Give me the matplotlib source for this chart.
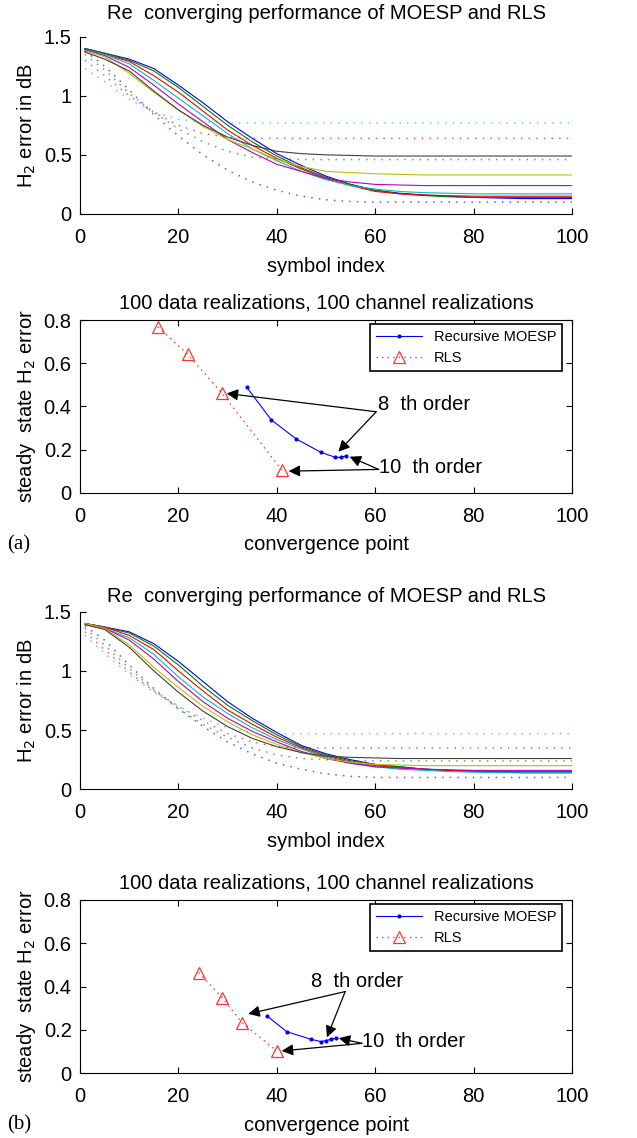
import matplotlib
matplotlib.use("Agg")
import matplotlib.pyplot as plt
import numpy as np

plt.rcParams['font.family'] = ['Liberation Sans', 'DejaVu Sans']
plt.rcParams['xtick.direction'] = 'in'
plt.rcParams['ytick.direction'] = 'in'

# symbol index where the curves were read
xs = [1, 5, 10, 15, 20, 25, 30, 35, 40, 45, 50, 55, 60, 65, 70, 75, 80, 85, 90, 95, 100]

# (a) recursive MOESP curves (solid)
a_blue = [1.40, 1.36, 1.31, 1.23, 1.09, 0.94, 0.78, 0.64, 0.51, 0.41, 0.32, 0.25, 0.20, 0.175, 0.16, 0.15, 0.14, 0.135, 0.13, 0.13, 0.13]
a_green = [1.40, 1.36, 1.30, 1.21, 1.07, 0.91, 0.75, 0.61, 0.49, 0.39, 0.31, 0.25, 0.20, 0.17, 0.155, 0.145, 0.14, 0.14, 0.14, 0.14, 0.14]
a_red = [1.39, 1.35, 1.29, 1.17, 1.03, 0.87, 0.71, 0.58, 0.47, 0.38, 0.30, 0.24, 0.19, 0.17, 0.16, 0.155, 0.15, 0.15, 0.15, 0.15, 0.15]
a_cyan = [1.39, 1.35, 1.27, 1.13, 0.98, 0.83, 0.68, 0.55, 0.45, 0.36, 0.29, 0.24, 0.21, 0.19, 0.18, 0.175, 0.17, 0.17, 0.17, 0.17, 0.17]
a_magenta = [1.39, 1.34, 1.24, 1.09, 0.93, 0.78, 0.63, 0.52, 0.42, 0.36, 0.30, 0.27, 0.25, 0.245, 0.24, 0.24, 0.24, 0.24, 0.24, 0.24, 0.24]
a_yellow = [1.38, 1.33, 1.19, 1.03, 0.88, 0.74, 0.63, 0.55, 0.46, 0.40, 0.36, 0.35, 0.34, 0.335, 0.33, 0.33, 0.33, 0.33, 0.33, 0.33, 0.33]
a_black = [1.37, 1.31, 1.21, 1.04, 0.88, 0.75, 0.65, 0.58, 0.53, 0.51, 0.50, 0.495, 0.49, 0.49, 0.49, 0.49, 0.49, 0.49, 0.49, 0.49, 0.49]
# (a) RLS curves (dotted)
a_rls_cyan = [1.23, 1.12, 0.97, 0.86, 0.80, 0.78, 0.77, 0.77, 0.77, 0.77, 0.77, 0.77, 0.77, 0.77, 0.77, 0.77, 0.77, 0.77, 0.77, 0.77, 0.77]
a_rls_red = [1.30, 1.17, 1.00, 0.86, 0.75, 0.68, 0.65, 0.64, 0.64, 0.64, 0.64, 0.64, 0.64, 0.64, 0.64, 0.64, 0.64, 0.64, 0.64, 0.64, 0.64]
a_rls_green = [1.35, 1.22, 1.02, 0.86, 0.72, 0.61, 0.53, 0.48, 0.47, 0.46, 0.46, 0.46, 0.46, 0.46, 0.46, 0.46, 0.46, 0.46, 0.46, 0.46, 0.46]
a_rls_blue = [1.38, 1.25, 1.05, 0.84, 0.66, 0.50, 0.37, 0.27, 0.20, 0.15, 0.12, 0.105, 0.10, 0.10, 0.10, 0.10, 0.10, 0.10, 0.10, 0.10, 0.10]

# (a) steady state vs convergence point
a_moesp_conv = [33.9, 38.9, 43.9, 48.9, 51.9, 53.0, 54.0]
a_moesp_err = [0.488, 0.337, 0.250, 0.188, 0.164, 0.164, 0.170]
a_rls_conv = [15.8, 21.9, 28.9, 41.0]
a_rls_err = [0.769, 0.641, 0.460, 0.105]

# (b) recursive MOESP curves
b_blue = [1.40, 1.37, 1.33, 1.23, 1.08, 0.91, 0.74, 0.60, 0.48, 0.37, 0.30, 0.25, 0.21, 0.19, 0.17, 0.16, 0.15, 0.145, 0.14, 0.14, 0.14]
b_green = [1.40, 1.37, 1.32, 1.21, 1.05, 0.87, 0.71, 0.58, 0.46, 0.36, 0.29, 0.24, 0.21, 0.19, 0.17, 0.16, 0.155, 0.15, 0.15, 0.15, 0.15]
b_red = [1.40, 1.37, 1.30, 1.18, 1.00, 0.83, 0.67, 0.55, 0.44, 0.35, 0.28, 0.23, 0.20, 0.18, 0.17, 0.16, 0.155, 0.15, 0.15, 0.15, 0.15]
b_cyan = [1.40, 1.36, 1.28, 1.14, 0.95, 0.78, 0.64, 0.52, 0.42, 0.34, 0.27, 0.22, 0.19, 0.17, 0.16, 0.15, 0.145, 0.14, 0.14, 0.14, 0.14]
b_magenta = [1.40, 1.36, 1.26, 1.10, 0.91, 0.74, 0.60, 0.49, 0.40, 0.32, 0.26, 0.22, 0.19, 0.18, 0.17, 0.165, 0.16, 0.16, 0.16, 0.16, 0.16]
b_yellow = [1.40, 1.36, 1.22, 1.03, 0.86, 0.70, 0.57, 0.46, 0.38, 0.31, 0.26, 0.23, 0.21, 0.205, 0.20, 0.20, 0.20, 0.20, 0.20, 0.20, 0.20]
b_black = [1.39, 1.35, 1.20, 1.00, 0.82, 0.66, 0.53, 0.43, 0.36, 0.31, 0.28, 0.27, 0.265, 0.26, 0.26, 0.26, 0.26, 0.26, 0.26, 0.26, 0.26]
# (b) RLS curves
b_rls_cyan = [1.30, 1.15, 0.97, 0.82, 0.70, 0.60, 0.52, 0.48, 0.47, 0.47, 0.47, 0.47, 0.47, 0.47, 0.47, 0.47, 0.47, 0.47, 0.47, 0.47, 0.47]
b_rls_red = [1.33, 1.18, 0.99, 0.83, 0.70, 0.58, 0.47, 0.40, 0.36, 0.35, 0.35, 0.35, 0.35, 0.35, 0.35, 0.35, 0.35, 0.35, 0.35, 0.35, 0.35]
b_rls_green = [1.36, 1.22, 1.02, 0.84, 0.68, 0.55, 0.44, 0.35, 0.29, 0.26, 0.25, 0.24, 0.24, 0.24, 0.24, 0.24, 0.24, 0.24, 0.24, 0.24, 0.24]
b_rls_blue = [1.38, 1.26, 1.05, 0.85, 0.68, 0.53, 0.40, 0.30, 0.22, 0.17, 0.13, 0.11, 0.10, 0.10, 0.10, 0.10, 0.10, 0.10, 0.10, 0.10, 0.10]

# (b) steady state vs convergence point
b_moesp_conv = [38.0, 42.0, 46.9, 49.0, 50.0, 51.1, 52.1]
b_moesp_err = [0.265, 0.192, 0.157, 0.146, 0.151, 0.157, 0.162]
b_rls_conv = [24.1, 28.9, 32.9, 40.0]
b_rls_err = [0.465, 0.349, 0.234, 0.103]

# matlab colours
cb, cg, cr = (0, 0, 1), (0, 0.5, 0), (1, 0, 0)
cc, cm, cy, ck = (0, 0.75, 0.75), (0.75, 0, 0.75), (0.75, 0.75, 0), (0.25, 0.25, 0.25)

FS = 14.5


def curves_panel(ax, solid, dotted, tpad):
    for y, c in solid:
        ax.plot(xs, y, color=c, lw=0.8)
    for y, c in dotted:
        ax.plot(xs, y, color=c, lw=1.1, ls=(0, (1, 4)), alpha=0.65)
    ax.set_xlim(0, 100)
    ax.set_ylim(0, 1.5)
    ax.set_xticks([0, 20, 40, 60, 80, 100])
    ax.set_yticks([0, 0.5, 1, 1.5])
    ax.set_yticklabels(['0', '0.5', '1', '1.5'])
    ax.spines['top'].set_visible(False)
    ax.spines['right'].set_visible(False)
    ax.tick_params(labelsize=FS, length=4, width=0.8)
    ax.tick_params(axis='y', pad=6)
    ax.tick_params(axis='x', pad=10)
    ax.set_title('Re  converging performance of MOESP and RLS', fontsize=FS, pad=tpad)
    ax.set_xlabel('symbol index', fontsize=FS, labelpad=7)
    ax.set_ylabel('H$_2$ error in dB', fontsize=FS, labelpad=4)


def steady_panel(ax, mc, me, rc, re):
    ax.plot(mc, me, color='b', lw=0.8, marker='.', ms=4, label='Recursive MOESP')
    ax.plot(rc, re, color='r', lw=1.0, ls=(0, (1, 3)), alpha=0.8, marker='^',
            ms=8, mfc='none', mec='r', mew=0.9, label='RLS')
    ax.set_xlim(0, 100)
    ax.set_ylim(0, 0.8)
    ax.set_xticks([0, 20, 40, 60, 80, 100])
    ax.set_yticks([0, 0.2, 0.4, 0.6, 0.8])
    ax.set_yticklabels(['0', '0.2', '0.4', '0.6', '0.8'])
    ax.tick_params(labelsize=FS, length=4, width=0.8, top=True, right=True)
    ax.tick_params(axis='y', pad=6)
    ax.tick_params(axis='x', pad=10)
    ax.set_title('100 data realizations, 100 channel realizations', fontsize=FS, pad=8)
    ax.set_xlabel('convergence point', fontsize=FS, labelpad=7)
    ax.set_ylabel('steady  state H$_2$ error', fontsize=FS, labelpad=4)
    leg = ax.legend(loc='upper right', bbox_to_anchor=(0.98, 0.977), borderaxespad=0,
                    fontsize=10.5, fancybox=False, framealpha=1,
                    edgecolor='k', handlelength=3.2)
    leg.get_frame().set_linewidth(1.2)


def arrow(ax, start, end):
    ax.annotate('', xy=end, xytext=start,
                arrowprops=dict(arrowstyle='-|>', color='k', lw=0.9,
                                mutation_scale=17, shrinkA=0, shrinkB=0))


fig = plt.figure(figsize=(6.37, 11.38), dpi=100)
ax1 = fig.add_axes([0.1256, 0.8120, 0.7724, 0.1558])
ax2 = fig.add_axes([0.1256, 0.5670, 0.7724, 0.1518])
ax3 = fig.add_axes([0.1256, 0.3064, 0.7724, 0.1561])
ax4 = fig.add_axes([0.1256, 0.0569, 0.7724, 0.1523])

curves_panel(ax1,
             [(a_blue, cb), (a_green, cg), (a_red, cr), (a_cyan, cc),
              (a_magenta, cm), (a_yellow, cy), (a_black, ck)],
             [(a_rls_cyan, cc), (a_rls_red, cr), (a_rls_green, cg), (a_rls_blue, cb)], 13)
steady_panel(ax2, a_moesp_conv, a_moesp_err, a_rls_conv, a_rls_err)
ax2.text(60.5, 0.409, '8  th order', fontsize=FS, va='center')
arrow(ax2, (60.2, 0.375), (29.8, 0.46))
arrow(ax2, (60.2, 0.375), (52.5, 0.19))
ax2.text(60.8, 0.116, '10  th order', fontsize=FS, va='center')
arrow(ax2, (60.7, 0.108), (54.8, 0.167))
arrow(ax2, (60.7, 0.108), (42.4, 0.10))

curves_panel(ax3,
             [(b_blue, cb), (b_green, cg), (b_red, cr), (b_cyan, cc),
              (b_magenta, cm), (b_yellow, cy), (b_black, ck)],
             [(b_rls_cyan, cc), (b_rls_red, cr), (b_rls_green, cg), (b_rls_blue, cb)], 7)
steady_panel(ax4, b_moesp_conv, b_moesp_err, b_rls_conv, b_rls_err)
ax4.text(47.0, 0.423, '8  th order', fontsize=FS, va='center')
arrow(ax4, (53.9, 0.377), (34.2, 0.274))
arrow(ax4, (53.9, 0.377), (50.2, 0.166))
ax4.text(57.4, 0.146, '10  th order', fontsize=FS, va='center')
arrow(ax4, (57.3, 0.138), (52.6, 0.162))
arrow(ax4, (57.3, 0.138), (41.0, 0.103))

# sub figure labels
fig.text(0.011, 1 - 545 / 1138, '(a)', family='Liberation Serif', fontsize=15, va='center')
fig.text(0.011, 1 - 1125 / 1138, '(b)', family='Liberation Serif', fontsize=15, va='center')

fig.savefig('out.png', dpi=100)
